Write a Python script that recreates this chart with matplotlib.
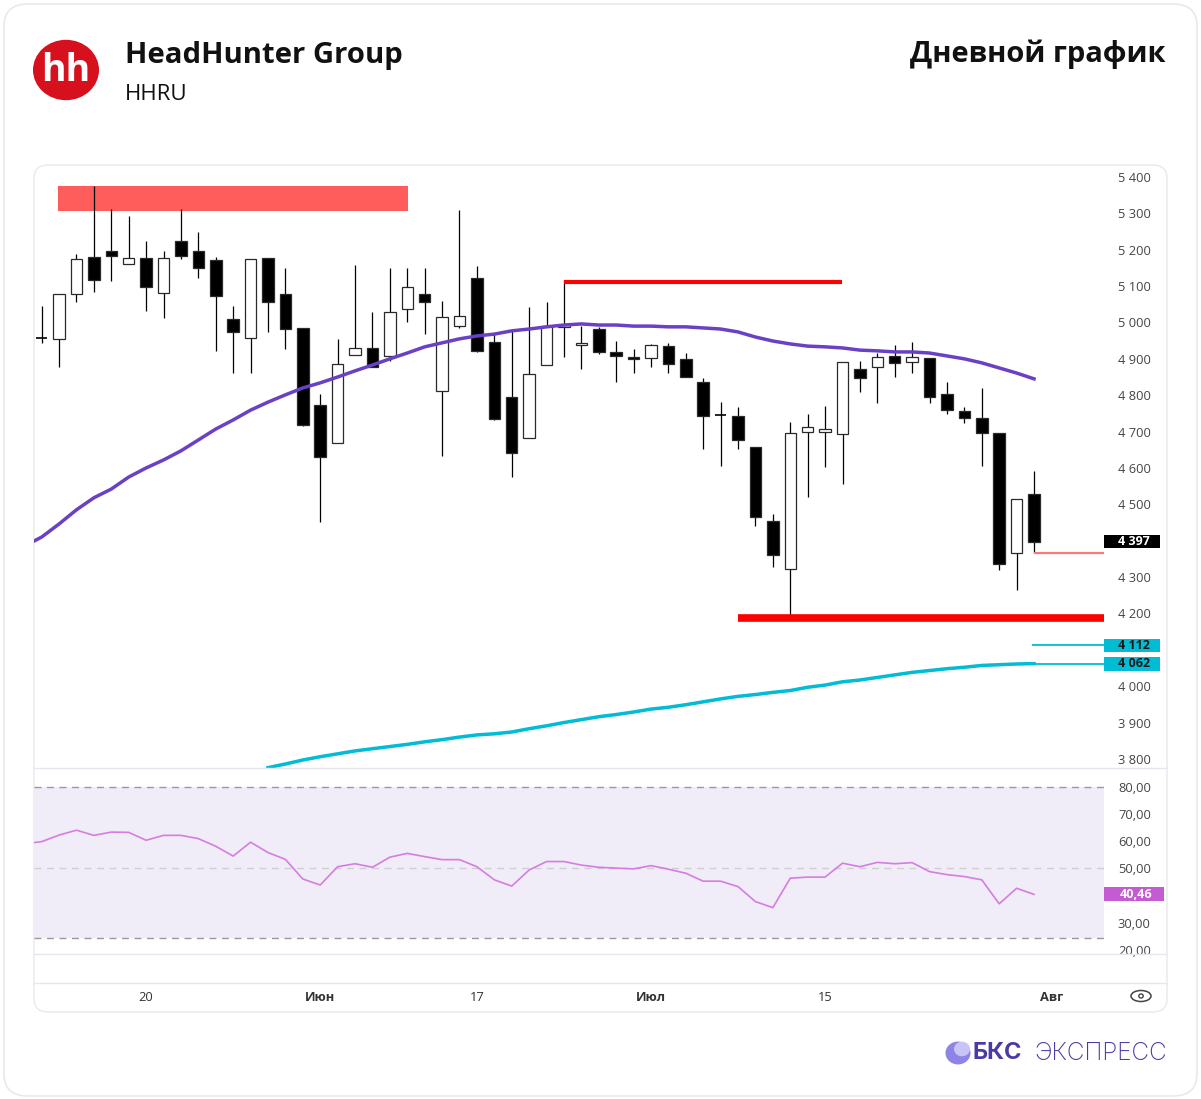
import numpy as np
import matplotlib
matplotlib.use("Agg")
import matplotlib.pyplot as plt
from matplotlib.patches import Rectangle, FancyBboxPatch, Circle, Ellipse
from matplotlib.lines import Line2D
import matplotlib.transforms as mtransforms

plt.rcParams['font.family'] = ['Open Sans', 'DejaVu Sans']

# daily candles, HHRU (index = trading day)
opens = [4957, 4955, 5078, 5180, 5197, 5161, 5177, 5081, 5224, 5197,
         5172, 5010, 4957, 5177, 5078, 4985, 4773, 4669, 4911, 4930,
         4908, 5037, 5078, 4812, 4990, 5122, 4947, 4795, 4683, 4883,
         4988, 4938, 4982, 4919, 4905, 4902, 4935, 4900, 4836, 4746,
         4743, 4658, 4454, 4322, 4699, 4699, 4693, 4872, 4878, 4908,
         4891, 4902, 4803, 4757, 4738, 4696, 4366, 4529]
highs = [5045, 5078, 5188, 5375, 5312, 5293, 5224, 5197, 5312, 5249,
         5180, 5045, 5175, 5177, 5150, 4985, 4803, 4955, 5158, 5029,
         5150, 5150, 5150, 5059, 5309, 5155, 4971, 4979, 5043, 5056,
         5117, 4990, 4988, 4949, 4927, 4941, 4944, 4916, 4847, 4782,
         4768, 4658, 4474, 4727, 4749, 4771, 4891, 4894, 4916, 4938,
         4946, 4902, 4836, 4768, 4820, 4696, 4515, 4592]
lows = [4944, 4878, 5056, 5084, 5114, 5161, 5032, 5012, 5175, 5122,
        4922, 4861, 4861, 4974, 4927, 4716, 4452, 4669, 4911, 4878,
        4894, 5001, 4968, 4633, 4985, 4918, 4732, 4575, 4683, 4883,
        4905, 4872, 4913, 4836, 4861, 4878, 4861, 4850, 4652, 4606,
        4652, 4441, 4328, 4196, 4520, 4603, 4556, 4809, 4779, 4850,
        4861, 4779, 4749, 4724, 4606, 4320, 4265, 4366]
closes = [4957, 5078, 5175, 5117, 5183, 5177, 5098, 5177, 5183, 5150,
          5073, 4974, 5175, 5056, 4982, 4718, 4630, 4886, 4930, 4878,
          5029, 5098, 5056, 5015, 5018, 4922, 4735, 4641, 4858, 4990,
          4993, 4944, 4919, 4908, 4900, 4938, 4886, 4850, 4743, 4746,
          4677, 4465, 4361, 4696, 4713, 4707, 4891, 4847, 4905, 4889,
          4905, 4795, 4760, 4738, 4696, 4336, 4515, 4397]

# purple moving average (one value per candle)
ma_short = [4410, 4446, 4485, 4518, 4542, 4575, 4600, 4622, 4647, 4677,
            4707, 4732, 4759, 4781, 4801, 4820, 4834, 4850, 4867, 4883,
            4900, 4916, 4933, 4944, 4955, 4963, 4968, 4977, 4982, 4988,
            4993, 4996, 4993, 4993, 4990, 4990, 4988, 4988, 4985, 4982,
            4974, 4960, 4949, 4941, 4935, 4933, 4930, 4924, 4922, 4919,
            4919, 4916, 4908, 4900, 4889, 4875, 4861, 4845]
ma_short_prev = 4385  # value for the bar before the first one (runs off the left edge)
# cyan moving average, visible from candle 13
ma_long_start = 13
ma_long = [3776, 3786, 3797, 3806, 3814, 3822, 3828, 3834, 3840, 3847,
           3853, 3860, 3866, 3869, 3874, 3883, 3891, 3900, 3908, 3916,
           3922, 3929, 3937, 3942, 3949, 3957, 3965, 3972, 3977, 3983,
           3988, 3997, 4003, 4012, 4017, 4024, 4031, 4038, 4043, 4048,
           4052, 4057, 4059, 4061, 4062]

rsi = [59.8, 62.2, 64.0, 62.1, 63.3, 63.2, 60.3, 62.1, 62.1, 60.9,
       58.1, 54.5, 59.6, 55.8, 53.3, 46.1, 43.9, 50.6, 51.7, 50.4,
       54.1, 55.5, 54.3, 53.2, 53.2, 50.6, 45.8, 43.5, 49.4, 52.5,
       52.5, 51.2, 50.4, 50.1, 49.8, 51.0, 49.7, 48.2, 45.3, 45.3,
       43.3, 37.8, 35.6, 46.4, 46.8, 46.8, 51.9, 50.6, 52.2, 51.7,
       52.1, 48.8, 47.7, 47.0, 45.8, 37.0, 42.7, 40.46]
rsi_prev = 59.0

# drawn levels
resist_zone = (5307, 5375)
resist_line = 5111
support_line = 4188
last_level = 4366
ma_level_a = 4112
price_last = 4397

price_ticks = [3800, 3900, 4000, 4200, 4300, 4500, 4600, 4700, 4800,
               4900, 5000, 5100, 5200, 5300, 5400]
rsi_ticks = [20, 30, 50, 60, 70, 80]
date_pos = [6, 16, 25, 35, 45, 58]
date_labels = ['20', 'Июн', '17', 'Июл', '15', 'Авг']

W, H = 1201, 1099
fig = plt.figure(figsize=(W / 100, H / 100), dpi=100)


def fx(px):
    return px / W


def fy(py):
    return 1 - py / H


def fmt_price(v):
    return f"{v // 1000} {v % 1000:03d}"


# cards (behind the axes)
fig.patches.append(FancyBboxPatch((fx(4), fy(1096)), fx(1193), 1092 / H,
                                  boxstyle='round,pad=0,rounding_size=0.02',
                                  transform=fig.transFigure, fc='white',
                                  ec='#e9e9ec', lw=1.2, zorder=-10))
fig.patches.append(FancyBboxPatch((fx(34), fy(1012)), fx(1133), 847 / H,
                                  boxstyle='round,pad=0,rounding_size=0.012',
                                  transform=fig.transFigure, fc='white',
                                  ec='#e8e8ee', lw=1, zorder=-9))

XL = (-0.44, 61.02)
ax = fig.add_axes([fx(34), fy(768), fx(1104) - fx(34), 603 / H])
ax.patch.set_alpha(0)
ax.set_xlim(*XL)
ax.set_ylim(3775, 5433)
for s in ax.spines.values():
    s.set_visible(False)
ax.set_xticks([])
ax.yaxis.tick_right()
ax.set_yticks(price_ticks)
ax.set_yticklabels([fmt_price(v) for v in price_ticks])
ax.tick_params(axis='y', length=0, pad=10, labelsize=9.3, labelcolor='#454545')

idx = np.arange(len(closes))
# resistance zone
ax.add_patch(Rectangle((0.94, resist_zone[0]), 20.1, resist_zone[1] - resist_zone[0],
                       fc='#ff5c5c', ec='none', zorder=1))
ax.vlines(idx, lows, highs, color='black', lw=0.9, zorder=2)
for i in idx:
    o, c = opens[i], closes[i]
    if o == c:
        ax.hlines(o, i - 0.33, i + 0.33, color='black', lw=1.2, zorder=3)
        continue
    fill = 'black' if c < o else 'white'
    ax.bar(i, abs(c - o), bottom=min(o, c), width=0.66, color=fill,
           edgecolor='#2a2a2a', lw=0.9, zorder=3)

ax.plot(np.arange(-1, len(ma_short)), [ma_short_prev] + ma_short,
        color='#6a40c4', lw=2.5, zorder=4)
ax.plot(np.arange(ma_long_start, ma_long_start + len(ma_long)), ma_long,
        color='#00bcd4', lw=2.5, zorder=4)

ax.hlines(resist_line, 30, 45.95, color='#ff0000', lw=3, zorder=5)
ax.hlines(support_line, 40.0, XL[1], color='#ff0000', lw=5.5, zorder=5)
ax.hlines(last_level, 57, XL[1], color='#f77a7a', lw=1.6, zorder=5)
ax.hlines([ma_level_a, ma_long[-1]], 56.9, XL[1], color='#00bcd4', lw=1.3, zorder=5)

blend = mtransforms.blended_transform_factory(ax.transAxes, ax.transData)
tag_w = 56 / 1070


def tag(a, val, text, fc, tc, tr, h, w):
    a.add_patch(Rectangle((1.0, val - h / 2), w, h, transform=tr,
                          fc=fc, ec='none', clip_on=False, zorder=10))
    a.text(1.0 + w / 2 + 0.002, val, text, transform=tr, ha='center', va='center',
           fontsize=9, color=tc, fontweight='bold', clip_on=False, zorder=11)


tag(ax, price_last, fmt_price(price_last), 'black', 'white', blend, 36, tag_w)
tag(ax, ma_level_a, fmt_price(ma_level_a), '#00bcd4', '#1a1a1a', blend, 38, tag_w)
tag(ax, ma_long[-1], fmt_price(ma_long[-1]), '#00bcd4', '#1a1a1a', blend, 38, tag_w)

# RSI pane
ax2 = fig.add_axes([fx(34), fy(954), fx(1104) - fx(34), 186 / H])
ax2.patch.set_alpha(0)
ax2.set_xlim(*XL)
ax2.set_ylim(18.6, 86.8)
for s in ax2.spines.values():
    s.set_visible(False)
ax2.set_xticks([])
ax2.axhspan(24.5, 80, color='#f0ecf8', lw=0, zorder=0)
ax2.axhline(80, color='#9a9a9a', lw=1, ls=(0, (5, 4)))
ax2.axhline(24.5, color='#9a9a9a', lw=1, ls=(0, (5, 4)))
ax2.axhline(50, color='#cfcfcf', lw=1, ls=(0, (5, 4)))
ax2.plot(np.arange(-1, len(rsi)), [rsi_prev] + rsi, color='#d57de0', lw=1.2, zorder=3)
ax2.yaxis.tick_right()
ax2.set_yticks(rsi_ticks)
ax2.set_yticklabels([f"{v},00" for v in rsi_ticks])
ax2.tick_params(axis='y', length=0, pad=10, labelsize=9.3, labelcolor='#454545')
blend2 = mtransforms.blended_transform_factory(ax2.transAxes, ax2.transData)
tag(ax2, rsi[-1], f"{rsi[-1]:.2f}".replace('.', ','), '#c55bd2', 'white', blend2,
    5.2, 60 / 1070)

# empty strip + date axis
ax3 = fig.add_axes([fx(34), fy(983), fx(1104) - fx(34), 29 / H])
ax3.patch.set_alpha(0)
ax3.set_xlim(*XL)
ax3.set_yticks([])
for s in ax3.spines.values():
    s.set_visible(False)
ax3.set_xticks(date_pos)
ax3.set_xticklabels(date_labels)
ax3.tick_params(axis='x', length=0, pad=6, labelsize=9.3, labelcolor='#333333')
for lab in ax3.get_xticklabels():
    if not lab.get_text().isdigit():
        lab.set_fontweight('bold')

for yy in (768, 954, 983):
    fig.lines.append(Line2D([fx(34), fx(1166)], [fy(yy), fy(yy)],
                            transform=fig.transFigure, color='#e6e6ee', lw=1))

# eye icon
fig.patches.append(Ellipse((fx(1141), fy(996)), fx(20), 11 / H, transform=fig.transFigure,
                           fc='none', ec='#444444', lw=1.1))
fig.patches.append(Circle((fx(1141), fy(996)), 2.2 / W, transform=fig.transFigure,
                          fc='none', ec='#444444', lw=1.0))

# header
fig.patches.append(Circle((fx(66), fy(70)), fx(33), transform=fig.transFigure,
                          fc='#d6101c', ec='none'))
fig.text(fx(66), fy(71), 'hh', color='white', fontsize=27, fontweight='bold',
         ha='center', va='center')
fig.text(fx(125), fy(55), 'HeadHunter Group', fontsize=21.1, fontweight='bold',
         va='center', color='#111111')
fig.text(fx(125), fy(95), 'HHRU', fontsize=16, va='center', color='#111111')
fig.text(fx(1166), fy(54), 'Дневной график', fontsize=21, fontweight='bold',
         va='center', ha='right', color='#111111')

# footer logo
fig.patches.append(Circle((fx(958), fy(1053)), fx(12.5), transform=fig.transFigure,
                          fc='#8d84e6', ec='none'))
fig.patches.append(Circle((fx(962), fy(1049)), fx(8), transform=fig.transFigure,
                          fc='#c9c4f7', ec='none'))
fig.text(fx(1022), fy(1053), 'БКС', fontsize=17, fontweight='bold', ha='right',
         va='center', color='#4a3aa8', family=['Inter', 'DejaVu Sans'])
fig.text(fx(1167), fy(1053), 'ЭКСПРЕСС', fontsize=17.5, ha='right', va='center',
         color='#4a3aa8', family=['Inter', 'DejaVu Sans'], fontweight='light')

fig.savefig('out.png', dpi=100)
